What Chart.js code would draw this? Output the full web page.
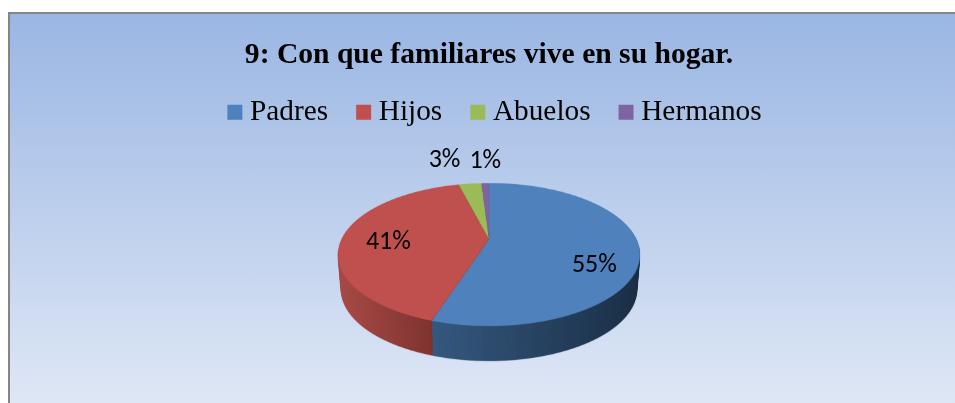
<!DOCTYPE html>
<html>
<head>
<meta charset="utf-8">
<script src="https://cdn.jsdelivr.net/npm/chart.js@4"></script>
<style>
html, body { margin: 0; padding: 0; background: #fff; overflow: hidden; }
#box { position: absolute; left: 8px; top: 12px; width: 960px; height: 400px; box-sizing: border-box;
  border-left: 2px solid #858585; border-top: 2px solid #858585;
  background: linear-gradient(to bottom, #9ab6e3 0%, #e0e8f6 100%); }
#myChart { position: absolute; left: 0; top: 0; }
</style>
</head>
<body>
<div id="box"></div>
<canvas id="myChart" width="955" height="403"></canvas>
<script>
const titleText = '9: Con que familiares vive en su hogar.';
const categories = ['Padres', 'Hijos', 'Abuelos', 'Hermanos'];
const values = [55, 41, 3, 1];
const sliceColors = ['#4f81bd', '#c0504d', '#9bbb59', '#8064a2'];
const wallColors = [['#36597f', '#1c3047'], ['#a84c48', '#7f3431'], ['#6f8a3f', '#6f8a3f'], ['#5c4876', '#5c4876']];

// the pie is tilted with a perspective: (u, v) on the unit disc -> screen
const P = { cx: 489, cy: 239, a: 147.4, b: 68.1, k: 0.217, depth: 35, shrink: 0.02 };
const SS = 3;
// label spot: how far out along the slice, then a nudge in px
const labelSpots = [[0.7, 1, 19], [0.7, 2, 5], [1.3, -21, -10], [1.3, 1, -8]];

function project(u, v) {
  const w = 1 - P.k * v;
  return { x: P.cx + P.a * u / w, y: P.cy + P.b * v / w };
}

function renderFace(arc, W, H) {
  const off = document.createElement('canvas');
  off.width = W * SS;
  off.height = H * SS;
  const c = off.getContext('2d');
  const R = arc.outerRadius;
  const first = Math.floor(project(0, -1).y * SS) - 1;
  const last = Math.ceil(project(0, 1).y * SS) + 1;
  for (let j = first; j < last; j++) {
    const y0 = j / SS, y1 = (j + 1) / SS;
    const v0 = (y0 - P.cy) / (P.b + P.k * (y0 - P.cy));
    const v1 = (y1 - P.cy) / (P.b + P.k * (y1 - P.cy));
    const w = 1 - P.k * (v0 + v1) / 2;
    const sx = P.a / (w * R);
    const sy = (y1 - y0) / ((v1 - v0) * R);
    const Y0 = arc.y + v0 * R;
    c.save();
    c.beginPath();
    c.rect(0, j, off.width, 1);
    c.clip();
    c.setTransform(SS * sx, 0, 0, SS * sy, SS * (P.cx - sx * arc.x), SS * (y0 - sy * Y0));
    arc.draw(c);
    c.restore();
  }
  return off;
}

function renderWall(face, i) {
  const off = document.createElement('canvas');
  off.width = face.width;
  off.height = face.height;
  const c = off.getContext('2d');
  c.drawImage(face, 0, 0);
  c.globalCompositeOperation = 'source-in';
  const g = c.createLinearGradient(i === 0 ? 434 * SS : 338 * SS, 0, i === 0 ? 640 * SS : 434 * SS, 0);
  g.addColorStop(0, wallColors[i][0]);
  g.addColorStop(1, wallColors[i][1]);
  c.fillStyle = g;
  c.fillRect(0, 0, off.width, off.height);
  return off;
}

const pie3d = {
  id: 'pie3d',
  afterLayout(chart) {
    // legend sits tighter under the title and a bit right of centre
    chart.legend.left += 9;
    chart.legend.right += 9;
    chart.legend.top -= 33;
    chart.legend.bottom -= 33;
  },
  beforeDatasetsDraw(chart) {
    const ctx = chart.ctx;
    const W = chart.width, H = chart.height;
    const arcs = chart.getDatasetMeta(0).data;
    const faces = arcs.map(a => renderFace(a, W, H));
    ctx.save();
    ctx.imageSmoothingEnabled = true;
    ctx.imageSmoothingQuality = 'high';
    ctx.filter = 'blur(0.4px)';
    // back to front, so blue's wall ends up over red's at the seam
    for (let i = arcs.length - 1; i >= 0; i--) {
      const wall = renderWall(faces[i], i);
      for (let d = P.depth; d > 0; d--) {
        const s = 1 - P.shrink * d / P.depth;
        ctx.drawImage(wall, P.cx - P.cx * s, d, W * s, H);
      }
    }
    faces.forEach(f => ctx.drawImage(f, 0, 0, W, H));
    ctx.restore();

    ctx.save();
    ctx.fillStyle = '#000';
    ctx.font = '26px Carlito, Calibri, "Open Sans", sans-serif';
    ctx.textAlign = 'center';
    ctx.textBaseline = 'middle';
    arcs.forEach((a, i) => {
      const mid = (a.startAngle + a.endAngle) / 2;
      const [r, dx, dy] = labelSpots[i];
      const p = project(Math.cos(mid) * r, Math.sin(mid) * r);
      ctx.fillText(values[i] + '%', p.x + dx, p.y + dy);
    });
    ctx.restore();
    return false;
  }
};

new Chart(document.getElementById('myChart'), {
  type: 'pie',
  data: {
    labels: categories,
    datasets: [{ data: values, backgroundColor: sliceColors, borderWidth: 0 }]
  },
  options: {
    responsive: false,
    animation: false,
    layout: { padding: { left: 23, top: 38 } },
    plugins: {
      title: {
        display: true,
        text: titleText,
        color: '#000',
        font: { family: '"Liberation Serif"', size: 29.6, weight: 'bold' },
        padding: { top: 0, bottom: 22 }
      },
      legend: {
        position: 'top',
        labels: {
          color: '#000',
          font: { family: '"Liberation Serif"', size: 29.3 },
          usePointStyle: true,
          pointStyle: 'rect',
          boxWidth: 1,
          boxHeight: 15,
          padding: 35
        }
      },
      tooltip: { enabled: false }
    }
  },
  plugins: [pie3d]
});
</script>
</body>
</html>
